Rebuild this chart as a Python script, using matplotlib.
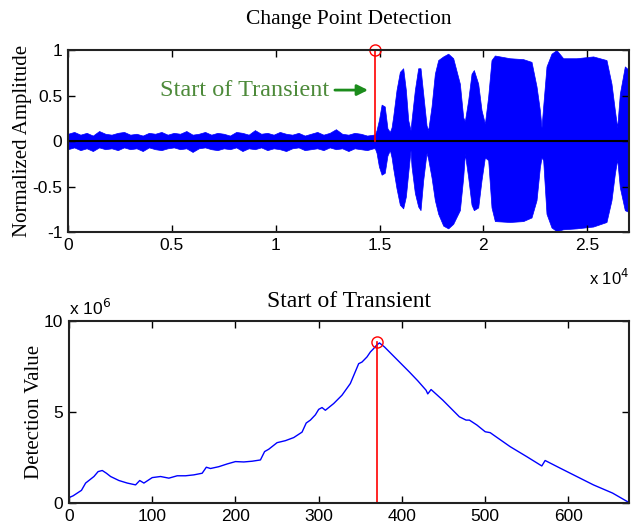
import numpy as np
import matplotlib.pyplot as plt

# top panel: envelope of the recorded signal, read off the plot
# background noise before the change point (every 300 samples)
noise_x = list(range(0, 14701, 300))
noise_hi = [0.08, 0.10, 0.07, 0.09, 0.06, 0.11, 0.08, 0.07, 0.09, 0.10,
            0.07, 0.08, 0.06, 0.09, 0.08, 0.10, 0.07, 0.09, 0.08, 0.11,
            0.07, 0.08, 0.10, 0.07, 0.09, 0.08, 0.06, 0.10, 0.09, 0.07,
            0.12, 0.08, 0.09, 0.07, 0.10, 0.08, 0.07, 0.09, 0.06, 0.08,
            0.10, 0.07, 0.09, 0.13, 0.08, 0.07, 0.09, 0.08, 0.06, 0.07]
noise_lo = [-0.09, -0.07, -0.10, -0.08, -0.11, -0.07, -0.09, -0.08, -0.10, -0.07,
            -0.09, -0.08, -0.11, -0.07, -0.09, -0.10, -0.08, -0.07, -0.09, -0.08,
            -0.12, -0.08, -0.07, -0.09, -0.10, -0.08, -0.09, -0.07, -0.11, -0.08,
            -0.09, -0.07, -0.10, -0.08, -0.09, -0.11, -0.08, -0.07, -0.10, -0.09,
            -0.08, -0.10, -0.07, -0.09, -0.08, -0.11, -0.08, -0.09, -0.10, -0.08]
# transient bursts after the change point
burst_x = [14776, 14856, 14970, 15100, 15250, 15380, 15498,
           15580, 15657, 15817, 15978, 16138, 16267, 16380, 16492,
           16540, 16700, 16860, 16973, 17102, 17263, 17343,
           17503, 17663, 17824, 18065, 18305, 18546, 18867, 19027, 19108,
           19268, 19428, 19540, 19749, 19909, 20070,
           20230, 20390, 20551, 21273, 21915, 22316, 22557, 22717, 22797,
           22877, 23037, 23278, 23519, 23840, 24482, 25284, 25925, 26166, 26327, 26440,
           26568, 26808, 27000]
burst_hi = [0.07, 0.12, 0.23, 0.40, 0.38, 0.14, 0.10,
            0.15, 0.27, 0.56, 0.76, 0.80, 0.56, 0.23, 0.12,
            0.23, 0.56, 0.80, 0.80, 0.52, 0.17, 0.12,
            0.38, 0.74, 0.89, 0.93, 0.96, 0.91, 0.63, 0.26, 0.22,
            0.45, 0.74, 0.78, 0.63, 0.34, 0.19,
            0.49, 0.89, 0.94, 0.91, 0.90, 0.87, 0.60, 0.34, 0.15,
            0.38, 0.82, 0.96, 1.00, 0.91, 0.91, 0.93, 0.89, 0.63, 0.34, 0.15,
            0.52, 0.82, 0.78]
burst_lo = [-0.08, -0.13, -0.28, -0.37, -0.35, -0.16, -0.10,
            -0.18, -0.30, -0.52, -0.70, -0.74, -0.61, -0.35, -0.10,
            -0.28, -0.57, -0.72, -0.76, -0.43, -0.13, -0.20,
            -0.40, -0.65, -0.80, -0.93, -0.96, -0.91, -0.76, -0.40, -0.14,
            -0.40, -0.70, -0.76, -0.73, -0.43, -0.18,
            -0.21, -0.73, -0.88, -0.89, -0.88, -0.84, -0.65, -0.29, -0.18,
            -0.21, -0.80, -0.95, -0.99, -0.97, -0.96, -0.94, -0.89, -0.65, -0.36, -0.20,
            -0.51, -0.76, -0.78]
change_sample = 14760

# bottom panel: detection statistic (x1e6)
det_x = [0, 5, 10, 15, 20, 25, 30, 35, 40, 45, 50, 60, 70, 80, 85, 90, 100, 110,
         120, 130, 140, 150, 160, 165, 170, 180, 190, 200, 210, 220, 230, 235,
         240, 250, 260, 270, 280, 285, 290, 296, 300, 304, 308, 318, 328, 338,
         348, 352, 358, 362, 366, 370, 373, 379, 389, 399, 409, 419, 429, 431,
         435, 449, 469, 477, 481, 490, 500, 506, 510, 530, 550, 568, 572, 590,
         610, 630, 653, 672]
det_y = [0.30, 0.40, 0.55, 0.70, 1.10, 1.28, 1.46, 1.73, 1.79, 1.64, 1.46, 1.24,
         1.10, 1.00, 1.24, 1.10, 1.40, 1.46, 1.37, 1.50, 1.50, 1.55, 1.64, 1.97,
         1.90, 2.00, 2.15, 2.28, 2.26, 2.30, 2.37, 2.83, 2.96, 3.32, 3.43, 3.60,
         3.90, 4.40, 4.56, 4.85, 5.15, 5.25, 5.10, 5.47, 5.93, 6.57, 7.66, 7.75,
         8.03, 8.30, 8.49, 8.70, 8.80, 8.58, 8.12, 7.66, 7.20, 6.72, 6.20, 6.00,
         6.24, 5.66, 4.74, 4.56, 4.56, 4.29, 3.92, 3.87, 3.74, 3.10, 2.55, 2.04,
         2.34, 1.92, 1.46, 1.00, 0.55, 0.05]
peak_x = 370
peak_y = 8.85

serif = 'Liberation Serif'
sans = 'Liberation Sans'

fig = plt.figure(figsize=(6.41, 5.29), dpi=100)
ax1 = fig.add_axes([0.106, 0.5614, 0.875, 0.344])
ax2 = fig.add_axes([0.1076, 0.049, 0.874, 0.344])

sig_x = noise_x + burst_x
sig_hi = noise_hi + burst_hi
sig_lo = noise_lo + burst_lo
ax1.fill_between(sig_x, sig_lo, sig_hi, color='#0000ff', lw=0.5, edgecolor='#0000ff')
ax1.axhline(0, color='black', lw=1.5)
ax1.plot([change_sample, change_sample], [0, 1], color='red', lw=1.2)
ax1.plot([change_sample], [1], 'o', mfc='none', mec='red', ms=8, mew=1.0, clip_on=False)
ax1.set_xlim(0, 27000)
ax1.set_ylim(-1, 1)
ax1.set_xticks([0, 5000, 10000, 15000, 20000, 25000])
ax1.set_xticklabels(['0', '0.5', '1', '1.5', '2', '2.5'])
ax1.set_yticks([-1, -0.5, 0, 0.5, 1])
ax1.set_yticklabels(['-1', '-0.5', '0', '0.5', '1'])
ax1.set_ylabel('Normalized Amplitude', family=serif, fontsize=15, labelpad=0)
ax1.set_title('Change Point Detection', family=serif, fontsize=15.5, pad=19)
ax1.text(0.164, 0.78, 'Start of Transient', transform=ax1.transAxes,
         family=serif, fontsize=17.5, color='#4d8a3a', va='center')
ax1.annotate('', xy=(0.535, 0.78), xytext=(0.476, 0.78), xycoords='axes fraction',
             arrowprops=dict(arrowstyle='-|>', color='#1c8c1c', lw=2,
                             mutation_scale=16, shrinkA=0, shrinkB=0))
ax1.text(1.0, -0.25, r'x 10$^4$', transform=ax1.transAxes, family=sans,
         fontsize=12, ha='right', va='center')

ax2.plot(det_x, det_y, color='#0000ff', lw=1.0)
ax2.plot([peak_x, peak_x], [0, peak_y], color='red', lw=1.2)
ax2.plot([peak_x], [peak_y], 'o', mfc='none', mec='red', ms=8, mew=1.0)
ax2.set_xlim(0, 673)
ax2.set_ylim(0, 10)
ax2.set_xticks([0, 100, 200, 300, 400, 500, 600])
ax2.set_yticks([0, 5, 10])
ax2.set_ylabel('Detection Value', family=serif, fontsize=15, labelpad=0)
ax2.set_title('Start of Transient', family=serif, fontsize=17, pad=10)
ax2.text(0.0, 1.07, r'x 10$^6$', transform=ax2.transAxes, family=sans,
         fontsize=12.5, ha='left', va='center')

for ax in (ax1, ax2):
    ax.tick_params(direction='in', top=True, right=True, length=5, width=1,
                   labelsize=12.5, pad=4)
    for lab in ax.get_xticklabels() + ax.get_yticklabels():
        lab.set_family(sans)
    for sp in ax.spines.values():
        sp.set_linewidth(1.5)
        sp.set_color('#222222')

fig.savefig('out.png', dpi=100)
